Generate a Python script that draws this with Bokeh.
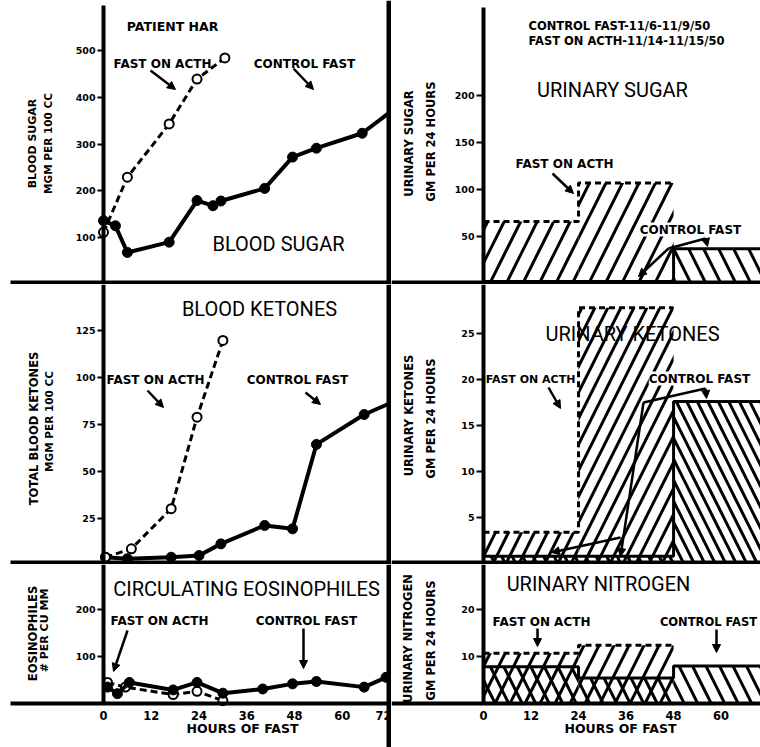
import math
from bokeh.plotting import figure
from bokeh.models import Range1d, LinearAxis, FixedTicker, Label, Arrow, NormalHead, Span
from bokeh.layouts import row, column
from bokeh.embed import file_html
from bokeh.resources import INLINE

# ---------------- data ----------------
# Blood sugar, mgm per 100 cc
bs_ctrl_h = [0, 3, 6, 16.5, 23.5, 27.5, 29.5, 40.5, 47.5, 53.5, 65, 72]
bs_ctrl_v = [136, 125, 68, 90, 179, 168, 178, 205, 272, 291, 323, 368]
bs_acth_h = [0, 6, 16.5, 23.5, 30.5]
bs_acth_v = [111, 229, 343, 439, 484]

# Total blood ketones, mgm per 100 cc
bk_ctrl_h = [0.5, 6, 17, 24, 29.5, 40.5, 47.5, 53.5, 65.5, 72]
bk_ctrl_v = [4.4, 3.6, 4.4, 5.3, 11.5, 21.3, 19.5, 64.4, 80.3, 86.3]
bk_acth_h = [0.5, 7, 17, 23.5, 30]
bk_acth_v = [4.4, 8.9, 30.2, 78.9, 119.7]

# Circulating eosinophiles, per cu mm
eo_ctrl_h = [1, 3.5, 6.5, 17.5, 23.5, 30, 40, 47.5, 53.5, 65.5, 71]
eo_ctrl_v = [34, 20, 44, 28, 44, 21, 30, 41, 46, 34, 55]
eo_acth_h = [1, 5.5, 17.5, 23.5, 30]
eo_acth_v = [44, 34, 18, 25, 5]

# Urinary excretion per 24-hour period (gm per 24 hours)
period_edges = [0, 24, 48, 72]
us_acth = [66, 107]
us_ctrl = [2, 2, 37]
uk_acth = [3.4, 27.8]
uk_ctrl = [0.8, 0.8, 17.6]
un_acth = [10.7, 12.4]
un_ctrl = [7.8, 5.4, 8.0]

hour_ticks = [0, 12, 24, 36, 48, 60, 72]
bs_ticks = [100, 200, 300, 400, 500]
bk_ticks = [25, 50, 75, 100, 125]
eo_ticks = [100, 200]
us_ticks = [50, 100, 150, 200]
uk_ticks = [5, 10, 15, 20, 25]
un_ticks = [10, 20]

# ---------------- layout calibration (page pixels) ----------------
LEFT = dict(x0=0, w=391, zero=103.0, pph=3.98)
RIGHT = dict(x0=391, w=369, zero=483.0, pph=3.96)
ROWS = [(0, 284), (284, 564), (564, 747)]
SMALL = "DejaVu Sans"
BIG = "Roboto"


class Panel:
    def __init__(self, col, r, y_zero, ppu):
        self.col = col
        self.top, self.bottom = ROWS[r]
        self.y_zero, self.ppu = y_zero, ppu
        self.fig = figure(
            width=col["w"], height=self.bottom - self.top,
            x_range=Range1d(self.fx(col["x0"]), self.fx(col["x0"] + col["w"])),
            y_range=Range1d(self.fy(self.bottom), self.fy(self.top)),
            x_axis_type=None, y_axis_type=None, tools="",
            toolbar_location=None, output_backend="svg",
            min_border=0, min_border_left=0, min_border_right=0,
            min_border_top=0, min_border_bottom=0,
            outline_line_color=None, background_fill_color="white",
            border_fill_color="white")

    def fx(self, px):
        return (px - self.col["zero"]) / self.col["pph"]

    def fy(self, py):
        return (self.y_zero - py) / self.ppu

    def text(self, px, py, s, size="12px", font=SMALL, style="bold",
             align="center", angle=0.0, bg=None):
        self.fig.add_layout(Label(
            x=self.fx(px), y=self.fy(py), text=s, text_font=font,
            text_font_size=size, text_font_style=style, text_align=align,
            text_baseline="middle", angle=angle, text_color="black",
            background_fill_color=bg))

    def arrow(self, x1, y1, x2, y2, head=True):
        self.fig.add_layout(Arrow(
            x_start=self.fx(x1), y_start=self.fy(y1),
            x_end=self.fx(x2), y_end=self.fy(y2),
            line_width=2.5, line_color="black",
            end=NormalHead(size=8, fill_color="black", line_color="black") if head else None))

    def yaxis(self, ticks, top_px, bottom_px, tick_out, size):
        ax = LinearAxis(
            fixed_location=0, ticker=FixedTicker(ticks=ticks),
            bounds=(self.fy(bottom_px), self.fy(top_px)),
            axis_line_width=4, axis_line_color="black",
            major_tick_in=0, major_tick_out=tick_out, major_tick_line_width=2,
            minor_tick_line_color=None, major_label_standoff=2,
            major_label_text_font=SMALL, major_label_text_font_style="bold",
            major_label_text_font_size=size, major_label_text_color="black")
        self.fig.add_layout(ax, "left")

    def xaxis(self, line_px, start_px, end_px, ticks=None):
        ax = LinearAxis(
            fixed_location=self.fy(line_px),
            bounds=(self.fx(start_px), self.fx(end_px)),
            ticker=FixedTicker(ticks=ticks or []),
            axis_line_width=4, axis_line_color="black",
            major_tick_line_color=None, minor_tick_line_color=None,
            major_tick_in=0, major_tick_out=0, major_label_standoff=8,
            major_label_text_font=SMALL, major_label_text_font_style="bold",
            major_label_text_font_size="11.5px", major_label_text_color="black")
        self.fig.add_layout(ax, "below")

    def series(self, hx, hy, acth, markers=None):
        n = len(hx) if markers is None else markers
        if acth:
            self.fig.line(hx, hy, line_color="black", line_width=3, line_dash="7 4")
            self.fig.scatter(hx[:n], hy[:n], marker="circle", size=9,
                             fill_color="white", line_color="black", line_width=2)
        else:
            self.fig.line(hx, hy, line_color="black", line_width=4)
            self.fig.scatter(hx[:n], hy[:n], marker="circle", size=10,
                             fill_color="black", line_color="black")

    def bars(self, edges, vals, pattern, scale, weight, dashed):
        n = len(vals)
        self.fig.quad(left=edges[:n], right=edges[1:n + 1], bottom=0, top=vals,
                      fill_color=None, line_color=None, hatch_pattern=pattern,
                      hatch_color="black", hatch_scale=scale, hatch_weight=weight)
        self.fig.step(x=edges[:n + 1], y=vals + [vals[-1]], mode="after",
                      line_color="black", line_width=3,
                      line_dash="6 4" if dashed else "solid")

    def vsep(self, px):
        self.fig.add_layout(Span(location=self.fx(px), dimension="height",
                                 line_color="black", line_width=5))


ROT = math.pi / 2

# ---------------- top left: blood sugar ----------------
tl = Panel(LEFT, 0, 283.75, 0.4675)
tl.series(bs_ctrl_h, bs_ctrl_v, acth=False, markers=len(bs_ctrl_h) - 1)
tl.series(bs_acth_h, bs_acth_v, acth=True)
tl.xaxis(281.5, 10, 391)
tl.yaxis(bs_ticks, 5, 283.5, 6, "9.5px")
tl.vsep(388.5)
tl.text(172, 26, "PATIENT HAR", size="12.5px")
tl.text(162, 63, "FAST ON ACTH")
tl.text(304, 63, "CONTROL FAST")
tl.arrow(150, 70, 175, 89)
tl.arrow(293, 68, 313, 89)
tl.text(278, 243, "BLOOD SUGAR", size="20px", font=BIG, style="normal")
tl.text(32, 143, "BLOOD SUGAR", size="11px", angle=ROT)
tl.text(47, 143, "MGM PER 100 CC", size="10.5px", angle=ROT)

# ---------------- top right: urinary sugar ----------------
tr = Panel(RIGHT, 0, 283.0, 0.94)
tr.bars(period_edges, us_acth, "/", 33, 3, dashed=True)
tr.bars(period_edges, us_ctrl, "\\", 30, 3, dashed=False)
tr.xaxis(281.5, 391, 760)
tr.yaxis(us_ticks, 7, 283.5, 7, "9.5px")
tr.text(528, 25, "CONTROL FAST-11/6-11/9/50", size="11.5px", align="left")
tr.text(528, 40, "FAST ON ACTH-11/14-11/15/50", size="11.5px", align="left")
tr.text(612, 89, "URINARY SUGAR", size="20px", font=BIG, style="normal")
tr.text(564, 163, "FAST ON ACTH")
tr.arrow(552, 173, 573, 193)
tr.text(690, 229, "CONTROL FAST", bg="white")
tr.arrow(668, 248, 705, 238, head=False)
tr.arrow(705, 238, 707, 246)
tr.arrow(668, 248, 638, 276)
tr.text(408, 143, "URINARY SUGAR", size="11.5px", angle=ROT)
tr.text(430, 141, "GM PER 24 HOURS", size="11.5px", angle=ROT)

# ---------------- middle left: blood ketones ----------------
ml = Panel(LEFT, 1, 565.0, 1.88)
ml.series(bk_ctrl_h, bk_ctrl_v, acth=False, markers=len(bk_ctrl_h) - 1)
ml.series(bk_acth_h, bk_acth_v, acth=True)
ml.xaxis(562, 10, 391)
ml.yaxis(bk_ticks, 284, 564, 6, "9.5px")
ml.vsep(388.5)
ml.text(259, 308, "BLOOD KETONES", size="20px", font=BIG, style="normal")
ml.text(155, 379, "FAST ON ACTH")
ml.text(297, 379, "CONTROL FAST")
ml.arrow(147, 390, 163, 407)
ml.arrow(305, 392, 320, 404)
ml.text(33, 428, "TOTAL BLOOD KETONES", size="11.5px", angle=ROT)
ml.text(48, 421, "MGM PER 100 CC", size="10.5px", angle=ROT)

# ---------------- middle right: urinary ketones ----------------
mr = Panel(RIGHT, 1, 563.0, 9.2)
mr.bars(period_edges, uk_acth, "/", 26, 3, dashed=True)
mr.bars(period_edges, uk_ctrl, "\\", 21, 3, dashed=False)
mr.xaxis(562, 391, 760)
mr.yaxis(uk_ticks, 284, 564, 7, "9.5px")
mr.text(632, 333, "URINARY KETONES", size="20px", font=BIG, style="normal")
mr.text(530, 379, "FAST ON ACTH", size="11px")
mr.arrow(548, 387, 560, 408)
mr.text(699, 378, "CONTROL FAST", bg="white")
mr.arrow(643, 402, 705, 388, head=False)
mr.arrow(705, 388, 706, 398)
mr.arrow(643, 402, 620, 556)
mr.arrow(620, 537, 551, 552)
mr.text(408, 415, "URINARY KETONES", size="11.5px", angle=ROT)
mr.text(430, 418, "GM PER 24 HOURS", size="11.5px", angle=ROT)

# ---------------- bottom left: eosinophiles ----------------
bl = Panel(LEFT, 2, 702.5, 0.467)
bl.series(eo_acth_h, eo_acth_v, acth=True)
bl.series(eo_ctrl_h, eo_ctrl_v, acth=False)
bl.xaxis(702.5, 10, 391, hour_ticks)
bl.yaxis(eo_ticks, 564, 702.5, 6, "9.5px")
bl.vsep(388.5)
bl.text(246, 588, "CIRCULATING EOSINOPHILES", size="20px", font=BIG, style="normal")
bl.text(159, 620, "FAST ON ACTH")
bl.text(306, 620, "CONTROL FAST")
bl.arrow(127, 630, 113, 671)
bl.arrow(303, 628, 303, 668)
bl.text(32, 633, "EOSINOPHILES", size="11.5px", angle=ROT)
bl.text(44, 630, "# PER CU MM", size="11px", angle=ROT)
bl.text(242, 728, "HOURS OF FAST", size="12.5px")

# ---------------- bottom right: urinary nitrogen ----------------
br = Panel(RIGHT, 2, 703.0, 4.7)
br.bars(period_edges, un_ctrl, "\\", 27, 3, dashed=False)
br.bars(period_edges, un_acth, "/", 30, 3, dashed=True)
br.xaxis(702.5, 391, 760, hour_ticks)
br.yaxis(un_ticks, 564, 702.5, 7, "9.5px")
br.text(598, 583, "URINARY NITROGEN", size="20px", font=BIG, style="normal")
br.text(541, 621, "FAST ON ACTH")
br.arrow(537, 628, 537, 646)
br.text(708, 621, "CONTROL FAST", size="11.5px")
br.arrow(716, 629, 716, 652)
br.text(407, 638, "URINARY NITROGEN", size="11.5px", angle=ROT)
br.text(430, 640, "GM PER 24 HOURS", size="11.5px", angle=ROT)
br.text(620, 728, "HOURS OF FAST", size="12.5px")

layout = column(
    row(tl.fig, tr.fig),
    row(ml.fig, mr.fig),
    row(bl.fig, br.fig),
)

open("out.html", "w").write(file_html(layout, INLINE, title="Patient HAR fasting study"))
